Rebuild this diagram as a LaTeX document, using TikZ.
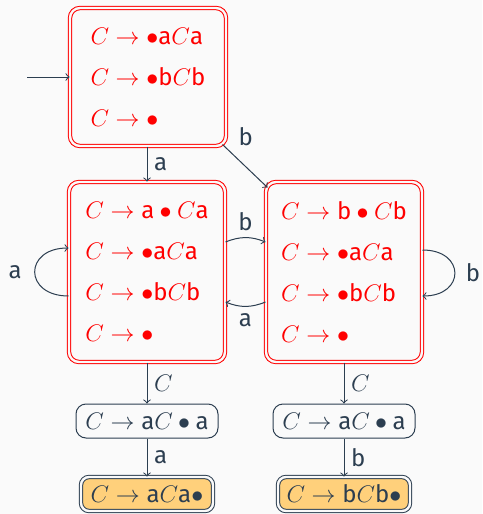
\documentclass[tikz,border=0pt]{standalone}
\usepackage{amsmath}
\usepackage{fontspec}
\setsansfont{Fira Sans}
\usetikzlibrary{arrows.meta}

\definecolor{ink}{HTML}{2C3E50}
\definecolor{paper}{HTML}{FAFAFA}
\definecolor{accept}{HTML}{FFD07B}
\newcommand{\tA}{\textsf{a}}
\newcommand{\tB}{\textsf{b}}

\begin{document}
\begin{tikzpicture}[x=1pt, y=1pt, >=to, font=\sffamily\fontsize{12}{20.5}\selectfont,
    state/.style={draw=red, text=red, double=paper, double distance=1.2pt, line width=0.5pt,
        rounded corners=5pt, minimum width=78pt, align=left, inner sep=0pt},
    item/.style={draw=ink, text=ink, line width=0.5pt, rounded corners=5pt,
        minimum width=71pt, minimum height=17pt, inner sep=0pt},
    final/.style={draw=ink, text=ink, fill=accept, double=paper, double distance=1.2pt,
        line width=0.5pt, rounded corners=4pt, minimum width=66pt, minimum height=17pt, inner sep=0pt},
    edge/.style={draw=ink, line width=0.5pt, ->}]

    \fill[paper] (0, 0) rectangle (241, -257);
    \useasboundingbox (0, 0) rectangle (241, -257);

    % states
    \node[state, minimum height=69pt] (s0) at (74, -38.5)
        {$C \to \bullet\tA C\tA$\\ $C \to \bullet\tB C\tB$\\ $C \to \bullet$};
    \node[state, minimum height=90pt] (s1) at (73.5, -136)
        {$C \to \tA \bullet C\tA$\\ $C \to \bullet\tA C\tA$\\ $C \to \bullet\tB C\tB$\\ $C \to \bullet$};
    \node[state, minimum height=90pt] (s2) at (172, -136)
        {$C \to \tB \bullet C\tB$\\ $C \to \bullet\tA C\tA$\\ $C \to \bullet\tB C\tB$\\ $C \to \bullet$};

    \node[item] (m1) at (73.5, -210.5) {$C \to \tA C \bullet \tA$};
    \node[item] (m2) at (172, -210.5) {$C \to \tA C \bullet \tA$};

    \node[final] (f1) at (73.5, -247) {$C \to \tA C\tA\bullet$};
    \node[final] (f2) at (172, -247) {$C \to \tB C\tB\bullet$};

    \coordinate (init) at (13.5, -38.5);

    % transitions
    \draw[edge] (init) -- (s0);
    \draw[edge] (s1.north |- s0.south) -- node[right, text=ink]{\tA} (s1.north);
    \draw[edge] ([xshift=-2pt, yshift=1pt]s0.south east) -- node[pos=0.2, anchor=south west, text=ink]{\tB}
        ([xshift=1pt, yshift=-3pt]s2.north west);
    \draw[edge] ([yshift=15pt]s1.east) to[bend left=22] node[above, text=ink]{\tB} ([yshift=15pt]s2.west);
    \draw[edge] ([yshift=-15pt]s2.west) to[bend left=22] node[below, text=ink]{\tA} ([yshift=-15pt]s1.east);
    \draw[edge] ([yshift=-12pt]s1.west) to[out=180, in=180, looseness=2.4] node[left=3pt, text=ink]{\tA}
        ([yshift=12pt]s1.west);
    \draw[edge] ([yshift=11pt]s2.east) to[out=0, in=0, looseness=2.4] node[right=2pt, text=ink]{\tB}
        ([yshift=-12pt]s2.east);

    \draw[edge] (s1) -- node[right, text=ink]{$C$} (m1);
    \draw[edge] (s2) -- node[right, text=ink]{$C$} (m2);
    \draw[edge] (m1) -- node[right, text=ink]{\tA} (f1);
    \draw[edge] (m2) -- node[right, text=ink]{\tB} (f2);
\end{tikzpicture}
\end{document}
